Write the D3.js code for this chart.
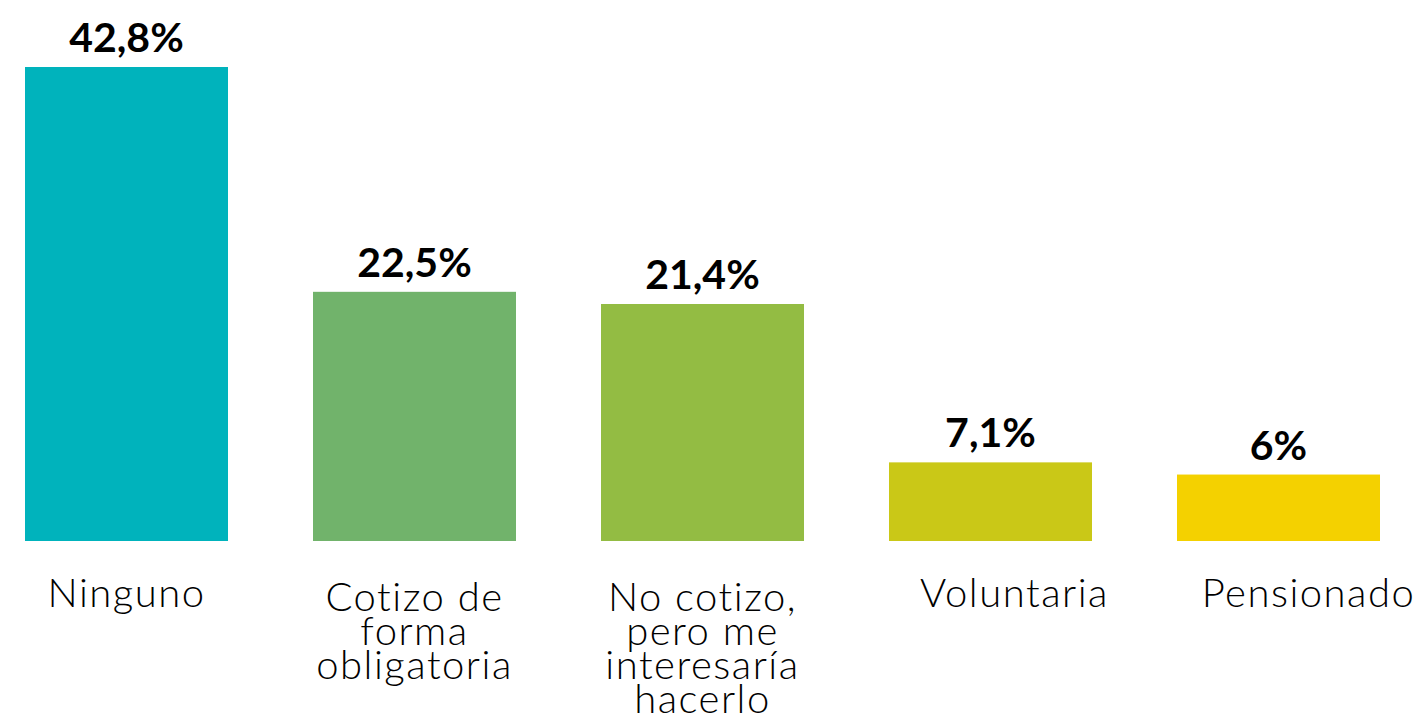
<!DOCTYPE html>
<html>
<head>
<meta charset="utf-8">
<script src="https://cdn.jsdelivr.net/npm/d3@7"></script>
<style>
  body { margin: 0; background: #fff; }
  .value { font-family: "Lato", sans-serif; font-weight: 700; font-size: 41px; fill: #000; }
  .cat { font-family: "Lato", sans-serif; font-weight: 300; font-size: 40px; letter-spacing: 1.5px; fill: #000; }
</style>
</head>
<body>
<script>
const categories = [
  ["Ninguno"],
  ["Cotizo de", "forma", "obligatoria"],
  ["No cotizo,", "pero me", "interesaría", "hacerlo"],
  ["Voluntaria"],
  ["Pensionado"]
];
const values = [42.8, 22.5, 21.4, 7.1, 6];
const valueLabels = ["42,8%", "22,5%", "21,4%", "7,1%", "6%"];
const colors = ["#00B3BC", "#71B36B", "#93BC43", "#CAC817", "#F4D100"];

const width = 1424, height = 721;
const baseline = 541;
// the last two category labels sit a bit right of their bars in the original
const labelNudge = [0, 0, 0, 24, 30];

const svg = d3.select("body").append("svg")
  .attr("width", width)
  .attr("height", height);

const x = d3.scaleBand()
  .domain(d3.range(values.length))
  .range([25, 1380])
  .paddingInner(85 / 288)
  .paddingOuter(0);

const y = d3.scaleLinear()
  .domain([0, 42.8])
  .range([baseline, 67]);

// bars
svg.append("g")
  .selectAll("rect")
  .data(values)
  .join("rect")
  .attr("x", (d, i) => x(i))
  .attr("y", (d) => y(d))
  .attr("width", x.bandwidth())
  .attr("height", (d) => baseline - y(d))
  .attr("fill", (d, i) => colors[i]);

// value labels
svg.append("g")
  .selectAll("text")
  .data(values)
  .join("text")
  .attr("class", "value")
  .attr("x", (d, i) => x(i) + x.bandwidth() / 2)
  .attr("y", (d) => y(d) - 15)
  .attr("text-anchor", "middle")
  .text((d, i) => valueLabels[i]);

// category labels
const cx = (i) => x(i) + x.bandwidth() / 2 + labelNudge[i];

const cat = svg.append("g")
  .selectAll("text")
  .data(categories)
  .join("text")
  .attr("class", "cat")
  .attr("text-anchor", "middle")
  .attr("x", (d, i) => cx(i))
  .attr("y", (d) => (d.length > 1 ? 611 : 607));

cat.selectAll("tspan")
  .data((d, i) => d.map((t) => ({ t, i })))
  .join("tspan")
  .attr("x", (d) => cx(d.i))
  .attr("dy", (d, j) => (j === 0 ? 0 : 34))
  .text((d) => d.t);
</script>
</body>
</html>
